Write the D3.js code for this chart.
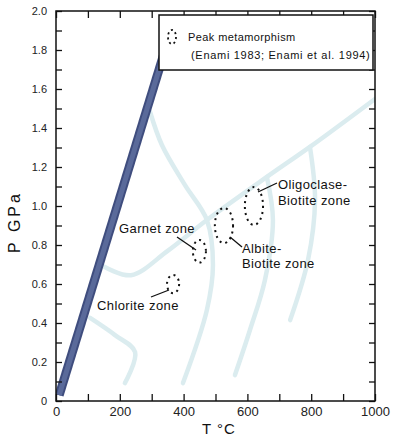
<!DOCTYPE html>
<html>
<head>
<meta charset="utf-8">
<script src="https://cdn.jsdelivr.net/npm/d3@7"></script>
<style>
  html, body { margin: 0; padding: 0; background: #fff; }
  svg { display: block; font-family: "Liberation Sans", Arial, sans-serif; }
</style>
</head>
<body>
<svg id="chart" width="393" height="439"></svg>
<script>
// Axis ticks
const tempTicks = [0, 100, 200, 300, 400, 500, 600, 700, 800, 900, 1000];
const tempLabels = ["0", "", "200", "", "400", "", "600", "", "800", "", "1000"];
const pressTicks = [0, 0.1, 0.2, 0.3, 0.4, 0.5, 0.6, 0.7, 0.8, 0.9, 1.0, 1.1, 1.2, 1.3, 1.4, 1.5, 1.6, 1.7, 1.8, 1.9, 2.0];
const pressLabels = ["0", "", "0.2", "", "0.4", "", "0.6", "", "0.8", "", "1.0", "", "1.2", "", "1.4", "", "1.6", "", "1.8", "", "2.0"];

// Geotherm limit (T °C, P GPa)
const limitT = [10, 370];
const limitP = [0.03, 1.95];

// Background reaction curves (T °C, P GPa)
const curveA_T = [150, 235, 350, 473, 661, 796, 1000];
const curveA_P = [0.69, 0.645, 0.77, 0.928, 1.149, 1.303, 1.549];
const curveB_T = [295, 332, 404, 473, 492, 473, 398];
const curveB_P = [1.482, 1.313, 1.108, 0.928, 0.697, 0.467, 0.092];
const curveC_T = [661, 680, 655, 608, 561];
const curveC_P = [1.149, 0.928, 0.621, 0.364, 0.133];
const curveD_T = [796, 812, 790, 734];
const curveD_P = [1.303, 1.031, 0.723, 0.415];
const curveE_T = [107, 185, 248, 216];
const curveE_P = [0.426, 0.338, 0.251, 0.092];

// Peak metamorphism ranges per zone
const zoneNames = ["Chlorite zone", "Garnet zone", "Albite-Biotite zone", "Oligoclase-Biotite zone"];
const zoneTmin = [348, 429, 498, 592];
const zoneTmax = [386, 470, 555, 649];
const zonePmin = [0.553, 0.710, 0.810, 0.903];
const zonePmax = [0.646, 0.826, 0.990, 1.097];

const svg = d3.select("#chart");
const x = d3.scaleLinear().domain([0, 1000]).range([56, 375]);
const y = d3.scaleLinear().domain([0, 2]).range([401, 11]);

// Reaction curves
const curveLine = d3.line().x(d => x(d[0])).y(d => y(d[1])).curve(d3.curveCatmullRom.alpha(0.5));
const curves = [
  [curveA_T, curveA_P], [curveB_T, curveB_P], [curveC_T, curveC_P],
  [curveD_T, curveD_P], [curveE_T, curveE_P]
];
svg.append("clipPath").attr("id", "plotClip")
  .append("rect").attr("x", x(0)).attr("y", y(2)).attr("width", x(1000) - x(0)).attr("height", y(0) - y(2));
const cg = svg.append("g").attr("clip-path", "url(#plotClip)");
curves.forEach(([ts, ps]) => {
  cg.append("path")
    .attr("d", curveLine(ts.map((t, i) => [t, ps[i]])))
    .attr("fill", "none")
    .attr("stroke", "#dbecef")
    .attr("stroke-width", 4.5)
    .attr("stroke-linecap", "round");
});

// Geotherm limit band
cg.append("line")
  .attr("x1", x(limitT[0])).attr("y1", y(limitP[0]))
  .attr("x2", x(limitT[1])).attr("y2", y(limitP[1]))
  .attr("stroke", "#3f4d7e").attr("stroke-width", 9);
cg.append("line")
  .attr("x1", x(limitT[0])).attr("y1", y(limitP[0]))
  .attr("x2", x(limitT[1])).attr("y2", y(limitP[1]))
  .attr("stroke", "#5a6a9a").attr("stroke-width", 5);

// Axes with inward ticks on all four sides
const fmtT = d => tempLabels[tempTicks.indexOf(d)];
const fmtP = d => pressLabels[pressTicks.findIndex(v => Math.abs(v - d) < 1e-9)];

const axisB = svg.append("g").attr("transform", `translate(0,${y(0)})`)
  .call(d3.axisBottom(x).tickValues(tempTicks).tickFormat(fmtT).tickSizeInner(-7).tickSizeOuter(0).tickPadding(6));
const axisT = svg.append("g").attr("transform", `translate(0,${y(2)})`)
  .call(d3.axisTop(x).tickValues(tempTicks).tickFormat("").tickSizeInner(-7).tickSizeOuter(0));
const axisL = svg.append("g").attr("transform", `translate(${x(0)},0)`)
  .call(d3.axisLeft(y).tickValues(pressTicks).tickFormat(fmtP).tickSizeInner(-6).tickSizeOuter(0).tickPadding(9));
const axisR = svg.append("g").attr("transform", `translate(${x(1000)},0)`)
  .call(d3.axisRight(y).tickValues(pressTicks).tickFormat("").tickSizeInner(-6).tickSizeOuter(0));

[axisB, axisT, axisL, axisR].forEach(g => {
  g.select(".domain").remove();
  g.selectAll(".tick line").attr("stroke", "#111").attr("stroke-width", 1.3);
  g.selectAll("text").attr("fill", "#222").attr("font-family", "Liberation Sans, Arial, sans-serif");
});
axisL.selectAll("text").attr("font-size", 11);
axisB.selectAll("text").attr("font-size", 13);

// Frame
svg.append("rect")
  .attr("x", x(0)).attr("y", y(2))
  .attr("width", x(1000) - x(0)).attr("height", y(0) - y(2))
  .attr("fill", "none").attr("stroke", "#111").attr("stroke-width", 1.5);

// Zone ellipses
const zg = svg.append("g");
zoneNames.forEach((name, i) => {
  const cx = (x(zoneTmin[i]) + x(zoneTmax[i])) / 2;
  const cy = (y(zonePmin[i]) + y(zonePmax[i])) / 2;
  zg.append("ellipse")
    .attr("cx", cx).attr("cy", cy)
    .attr("rx", (x(zoneTmax[i]) - x(zoneTmin[i])) / 2)
    .attr("ry", (y(zonePmin[i]) - y(zonePmax[i])) / 2)
    .attr("fill", "none").attr("stroke", "#111").attr("stroke-width", 2)
    .attr("stroke-dasharray", "2,4");
});

// Zone labels with leaders
function leader(x1, y1, x2, y2) {
  svg.append("line").attr("x1", x1).attr("y1", y1).attr("x2", x2).attr("y2", y2)
    .attr("stroke", "#111").attr("stroke-width", 1.3);
}
function label(lines, tx, ty, gap) {
  const t = svg.append("text").attr("x", tx).attr("y", ty)
    .attr("font-size", 13).attr("letter-spacing", 0.4).attr("fill", "#111");
  lines.forEach((s, k) => t.append("tspan").attr("x", tx).attr("dy", k === 0 ? 0 : gap).text(s));
}
// Chlorite
leader(151, 297, 169, 290);
label(["Chlorite zone"], 97, 310, 0);
// Garnet
leader(177, 237, 196, 250);
label(["Garnet zone"], 119, 233, 0);
// Albite-Biotite
leader(230, 237, 242, 247);
label(["Albite-", "Biotite zone"], 242, 253, 15);
// Oligoclase-Biotite
leader(258, 192, 277, 183);
label(["Oligoclase-", "Biotite zone"], 278, 189, 16);

// Legend
const lg = svg.append("g");
lg.append("rect").attr("x", 159).attr("y", 15).attr("width", 214).attr("height", 55)
  .attr("fill", "#fff").attr("stroke", "#111").attr("stroke-width", 1.5);
lg.append("ellipse").attr("cx", 172).attr("cy", 37).attr("rx", 4).attr("ry", 7)
  .attr("fill", "none").attr("stroke", "#111").attr("stroke-width", 1.8).attr("stroke-dasharray", "2,3");
lg.append("text").attr("x", 188).attr("y", 41).attr("font-size", 11).attr("letter-spacing", 0.4).attr("fill", "#111")
  .text("Peak metamorphism");
lg.append("text").attr("x", 191).attr("y", 59).attr("font-size", 11).attr("letter-spacing", 0.7).attr("fill", "#111")
  .text("(Enami 1983; Enami et al. 1994)");

// Axis titles
svg.append("text")
  .attr("transform", `translate(20,${222}) rotate(-90)`)
  .attr("text-anchor", "middle").attr("font-size", 16).attr("letter-spacing", 3).attr("fill", "#111")
  .text("P   GPa");
svg.append("text")
  .attr("x", 219).attr("y", 434)
  .attr("text-anchor", "middle").attr("font-size", 15).attr("letter-spacing", 1).attr("fill", "#111")
  .text("T   °C");
</script>
</body>
</html>
